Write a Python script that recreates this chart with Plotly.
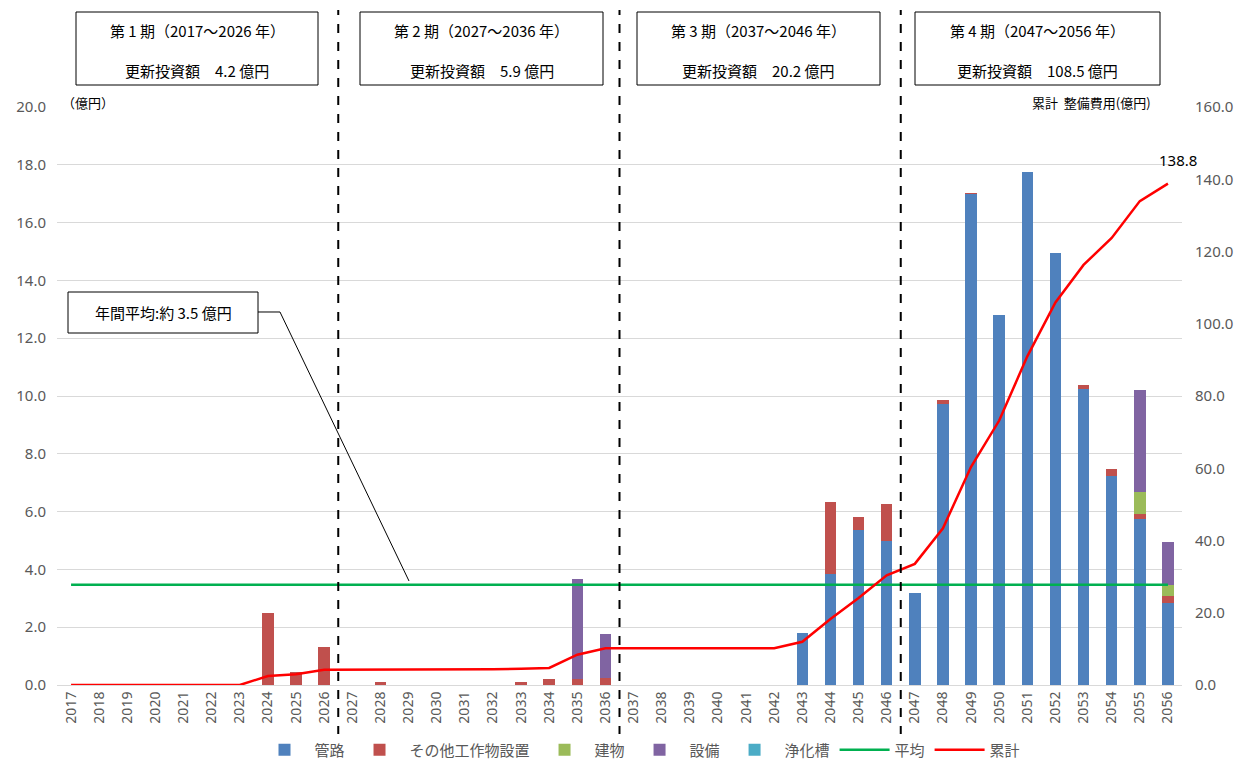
import plotly.graph_objects as go

years = ["2017", "2018", "2019", "2020", "2021", "2022", "2023", "2024", "2025", "2026",
         "2027", "2028", "2029", "2030", "2031", "2032", "2033", "2034", "2035", "2036",
         "2037", "2038", "2039", "2040", "2041", "2042", "2043", "2044", "2045", "2046",
         "2047", "2048", "2049", "2050", "2051", "2052", "2053", "2054", "2055", "2056"]

pipes = [0, 0, 0, 0, 0, 0, 0, 0, 0, 0,
         0, 0, 0, 0, 0, 0, 0, 0, 0, 0,
         0, 0, 0, 0, 0, 0, 1.81, 3.85, 5.37, 4.97,
         3.19, 9.71, 17.0, 12.8, 17.76, 14.94, 10.25, 7.24, 5.73, 2.83]
other = [0, 0, 0, 0, 0, 0, 0, 2.5, 0.45, 1.3,
         0, 0.12, 0, 0, 0, 0, 0.12, 0.22, 0.2, 0.25,
         0, 0, 0, 0, 0, 0, 0, 2.47, 0.43, 1.29,
         0, 0.15, 0.02, 0, 0, 0, 0.13, 0.23, 0.19, 0.24]
building = [0, 0, 0, 0, 0, 0, 0, 0, 0, 0,
            0, 0, 0, 0, 0, 0, 0, 0, 0, 0,
            0, 0, 0, 0, 0, 0, 0, 0, 0, 0,
            0, 0, 0, 0, 0, 0, 0, 0, 0.77, 0.38]
equipment = [0, 0, 0, 0, 0, 0, 0, 0, 0, 0,
             0, 0, 0, 0, 0, 0, 0, 0, 3.48, 1.51,
             0, 0, 0, 0, 0, 0, 0, 0, 0, 0,
             0, 0, 0, 0, 0, 0, 0, 0, 3.51, 1.51]
septic = [0, 0, 0, 0, 0, 0, 0, 0, 0, 0,
          0, 0, 0, 0, 0, 0, 0, 0, 0, 0,
          0, 0, 0, 0, 0, 0, 0, 0, 0, 0,
          0, 0, 0, 0, 0, 0, 0, 0, 0, 0]
average = [3.47] * 40
cumulative = [0, 0, 0, 0, 0, 0, 0, 2.5, 2.95, 4.25,
              4.25, 4.37, 4.37, 4.37, 4.37, 4.37, 4.49, 4.71, 8.39, 10.15,
              10.15, 10.15, 10.15, 10.15, 10.15, 10.15, 11.96, 18.28, 24.08, 30.34,
              33.53, 43.39, 60.41, 73.21, 90.97, 105.91, 116.29, 123.76, 133.96, 138.8]

period_titles = ["第 1 期（2017～2026 年）", "第 2 期（2027～2036 年）",
                 "第 3 期（2037～2046 年）", "第 4 期（2047～2056 年）"]
period_amounts = ["更新投資額　4.2 億円", "更新投資額　5.9 億円",
                  "更新投資額　20.2 億円", "更新投資額　108.5 億円"]
period_boundaries = [9.5, 19.5, 29.5]

# layout geometry (pixels)
W, H = 1246, 764
L, R, T, B = 57, 1182, 107, 685
PW, PH = R - L, B - T


def px(x):
    return (x - L) / PW


def py(y):
    return (B - y) / PH


JP = "Noto Sans CJK JP"
GRAY = "#595959"

fig = go.Figure()
bar_series = [("管路", pipes, "#4f81bd"), ("その他工作物設置", other, "#c0504d"),
              ("建物", building, "#9bbb59"), ("設備", equipment, "#8064a2"),
              ("浄化槽", septic, "#4bacc6")]
for name, vals, col in bar_series:
    fig.add_trace(go.Bar(x=years, y=vals, name=name, marker=dict(color=col, line=dict(width=0))))

fig.add_trace(go.Scatter(x=years, y=average, name="平均", mode="lines",
                         line=dict(color="#00b050", width=2.5)))
fig.add_trace(go.Scatter(x=years, y=cumulative, name="累計", mode="lines", yaxis="y2",
                         line=dict(color="#ff0000", width=2.5)))

shapes = []
for xb in period_boundaries:
    shapes.append(dict(type="line", xref="x", yref="paper", x0=xb, x1=xb,
                       y0=py(735), y1=py(10), line=dict(color="black", width=2, dash="dash")))

box_x = [(76, 318), (360, 603), (637, 880), (915, 1160)]
annotations = []
for (x0, x1), t1, t2 in zip(box_x, period_titles, period_amounts):
    shapes.append(dict(type="rect", xref="paper", yref="paper", x0=px(x0), x1=px(x1),
                       y0=py(85), y1=py(12), line=dict(color="black", width=1),
                       fillcolor="white"))
    annotations.append(dict(xref="paper", yref="paper", x=px((x0 + x1) / 2), y=py(31),
                            xanchor="center", yanchor="middle",
                            text=t1, showarrow=False, font=dict(family=JP, size=15, color="black")))
    annotations.append(dict(xref="paper", yref="paper", x=px((x0 + x1) / 2), y=py(70),
                            xanchor="center", yanchor="middle",
                            text=t2, showarrow=False, font=dict(family=JP, size=15, color="black")))

# average callout
shapes.append(dict(type="rect", xref="paper", yref="paper", x0=px(68), x1=px(258),
                   y0=py(333), y1=py(292), line=dict(color="black", width=1), fillcolor="white"))
shapes.append(dict(type="path", xref="paper", yref="paper",
                   path="M %f %f L %f %f L %f %f" % (px(258), py(312), px(280), py(312), px(409), py(581)),
                   line=dict(color="black", width=1)))
annotations.append(dict(xref="paper", yref="paper", x=px(163), y=py(312),
                        xanchor="center", yanchor="middle",
                        text="年間平均:約 3.5 億円", showarrow=False,
                        font=dict(family=JP, size=15, color="black")))

annotations.append(dict(xref="paper", yref="paper", x=px(60), y=py(103), xanchor="left",
                        yanchor="middle",
                        text="（億円）", showarrow=False, font=dict(family=JP, size=13, color="black")))
annotations.append(dict(xref="paper", yref="paper", x=px(1153), y=py(103), xanchor="right",
                        yanchor="middle",
                        text="累計  整備費用(億円)", showarrow=False,
                        font=dict(family=JP, size=13, color="black")))
annotations.append(dict(xref="x", yref="y2", x=len(years) - 1, y=cumulative[-1],
                        xanchor="center", yanchor="middle",
                        text="%.1f" % cumulative[-1], showarrow=False, xshift=10, yshift=24,
                        font=dict(family="Noto Sans", size=15, color="black")))

fig.update_layout(
    width=W, height=H,
    margin=dict(l=L, r=W - R, t=T, b=H - B, autoexpand=False),
    paper_bgcolor="white", plot_bgcolor="white",
    barmode="stack", bargap=0.595,
    font=dict(family="Noto Sans", color=GRAY),
    shapes=shapes, annotations=annotations,
    legend=dict(orientation="h", x=px(640), xanchor="center", y=py(750), yanchor="middle",
                font=dict(family=JP, size=15, color=GRAY), itemwidth=50, traceorder="normal",
                tracegroupgap=0),
    xaxis=dict(type="category", range=[-0.5, len(years) - 0.5], tickangle=-90,
               tickfont=dict(size=14, color=GRAY),
               showgrid=False, showline=True, linecolor="#d9d9d9", linewidth=1, ticks=""),
    yaxis=dict(range=[0, 20], dtick=2, tickformat=".1f", gridcolor="#d9d9d9",
               tickfont=dict(size=15, color=GRAY), zeroline=False, ticklabelstandoff=10),
    yaxis2=dict(range=[0, 160], dtick=20, tickformat=".1f", overlaying="y", side="right",
                showgrid=False, zeroline=False, tickfont=dict(size=15, color=GRAY),
                ticklabelstandoff=12),
)

fig.write_html("out.html", config={"displayModeBar": False},
               post_script="document.body.style.margin='0';")
